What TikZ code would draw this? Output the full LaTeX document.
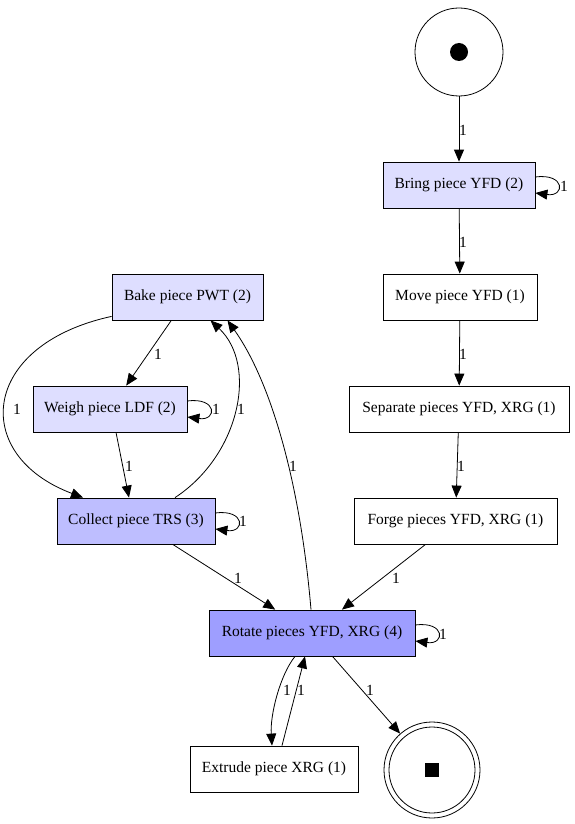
\documentclass[tikz,border=0pt]{standalone}
\usepackage{fontspec}
\setmainfont{Liberation Serif}
\usetikzlibrary{arrows.meta,calc}
\definecolor{lightfill}{RGB}{222,222,255}
\definecolor{midfill}{RGB}{190,190,255}
\definecolor{darkfill}{RGB}{158,158,255}
\begin{document}
\begin{tikzpicture}[x=1pt,y=-1pt,
  every node/.style={font=\fontsize{15.5}{18}\selectfont},
  trans/.style={draw, line width=0.8pt, minimum height=46pt, inner sep=0pt},
  place/.style={draw, circle, line width=0.8pt, inner sep=0pt},
  arc/.style={draw, line width=0.8pt, -{Triangle[length=12pt,width=10pt]}},
  lbl/.style={inner sep=0pt}]
\useasboundingbox (0,0) rectangle (574,824);

% places
\node[place, minimum size=88pt] (start) at (459,52) {};
\fill (start.center) circle (9pt);
\node[place, minimum size=96pt] (end) at (432,770) {};
\draw[line width=0.8pt] (end.center) circle (43pt);
\fill ([shift={(-7,-7)}]end.center) rectangle +(14,14);

% transitions
\node[trans, fill=lightfill, minimum width=152pt] (bring) at (459,185) {Bring piece YFD (2)};
\node[trans, minimum width=154pt] (move) at (460,297) {Move piece YFD (1)};
\node[trans, minimum width=220pt] (sep) at (459,409) {Separate pieces YFD, XRG (1)};
\node[trans, minimum width=203pt] (forge) at (455.5,521) {Forge pieces YFD, XRG (1)};
\node[trans, fill=lightfill, minimum width=151pt] (bake) at (187.5,297) {Bake piece PWT (2)};
\node[trans, fill=lightfill, minimum width=154pt] (weigh) at (110,409) {Weigh piece LDF (2)};
\node[trans, fill=midfill, minimum width=158pt] (collect) at (136,521) {Collect piece TRS (3)};
\node[trans, fill=darkfill, minimum width=206pt] (rot) at (312,633) {Rotate pieces YFD, XRG (4)};
\node[trans, minimum width=168pt] (extr) at (274,769) {Extrude piece XRG (1)};

% right-hand chain
\draw[arc] (start) -- (bring);
\draw[arc] (bring) -- (move);
\draw[arc] (move) -- (sep);
\draw[arc] (sep) -- (forge);
\draw[arc] (forge) -- (rot);
\draw[arc] (collect) -- (rot);
\draw[arc] (rot) -- (end);

% left-hand block
\draw[arc] (bake) -- (weigh);
\draw[arc] ([xshift=6pt]weigh.south) -- ([xshift=-7pt]collect.north);
\draw[arc] (bake.south west) ++(0,-4) coordinate (bakeout)
  (bakeout) .. controls (-20,345) and (-30,455) .. ([xshift=-53pt]collect.north);
\draw[arc] ([xshift=39pt]collect.north) .. controls (240,455) and (258,365) .. ([xshift=23pt]bake.south);
\draw[arc] ([xshift=-1pt]rot.north) .. controls (300,480) and (270,380) .. ([xshift=40pt]bake.south);

% rotate / extrude
\draw[arc] ([xshift=-17pt]rot.south) .. controls (280,675) and (270,715) .. ([xshift=-2pt]extr.north);
\draw[arc] ([xshift=8pt]extr.north) -- ([xshift=-7pt]rot.south);

% self loops
\draw[arc] ([yshift=8pt]bring.east) .. controls +(30,-4) and +(30,4) .. ([yshift=-8pt]bring.east);
\draw[arc] ([yshift=8pt]weigh.east) .. controls +(30,-4) and +(30,4) .. ([yshift=-8pt]weigh.east);
\draw[arc] ([yshift=8pt]collect.east) .. controls +(30,-4) and +(30,4) .. ([yshift=-8pt]collect.east);
\draw[arc] ([yshift=8pt]rot.east) .. controls +(30,-4) and +(30,4) .. ([yshift=-8pt]rot.east);

% arc weights
\node[lbl] (w1) at (463,130) {1};
\node[lbl] (w2) at (463,242) {1};
\node[lbl] (w3) at (463,354) {1};
\node[lbl] (w4) at (461,466) {1};
\node[lbl] (w5) at (396,578) {1};
\node[lbl] (w6) at (238,578) {1};
\node[lbl] (w7) at (370,690) {1};
\node[lbl] (w8) at (287,690) {1};
\node[lbl] (w9) at (301,690) {1};
\node[lbl] (w10) at (293,466) {1};
\node[lbl] (w11) at (241,409) {1};
\node[lbl] (w12) at (158,354) {1};
\node[lbl] (w13) at (17,409) {1};
\node[lbl] (w14) at (129,466) {1};
\node[lbl] (w15) at (564,186) {1};
\node[lbl] (w16) at (216,409) {1};
\node[lbl] (w17) at (243,521) {1};
\node[lbl] (w18) at (443,634) {1};
\end{tikzpicture}
\end{document}
